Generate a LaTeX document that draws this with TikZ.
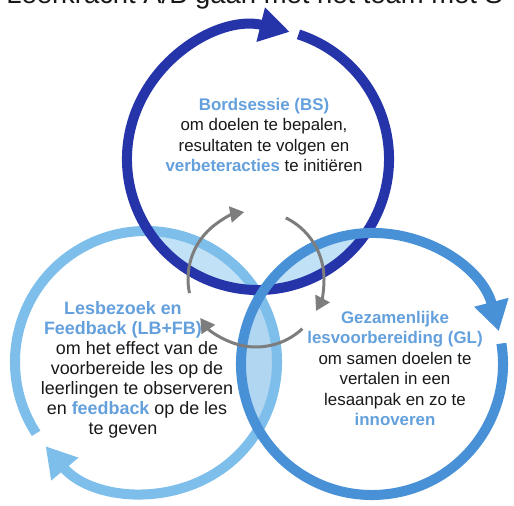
\documentclass[tikz,border=0pt]{standalone}
\usepackage{fontspec}
\setmainfont{Liberation Sans}
\usetikzlibrary{arrows.meta}
\definecolor{darkring}{RGB}{38,52,170}
\definecolor{lightring}{RGB}{125,190,235}
\definecolor{midring}{RGB}{72,145,215}
\definecolor{lens}{RGB}{192,225,246}
\definecolor{lensb}{RGB}{176,214,242}
\definecolor{headblue}{RGB}{100,160,220}
\definecolor{grayarrow}{RGB}{125,125,125}
\definecolor{textblack}{RGB}{25,25,25}
\tikzset{
  ring/.style={line width=5.7pt, -{Triangle[width=19pt,length=17pt]}},
  cyc/.style={line width=1.7pt, draw=grayarrow, -{Triangle[width=9pt,length=8pt]}},
  lbl/.style={align=center, font=\fontsize{9.6}{11.6}\selectfont, text=textblack, inner sep=0pt, anchor=north}
}
\newcommand{\hb}[1]{{\bfseries\color{headblue}#1}}
\newcommand{\pad}{\rule{16pt}{0pt}}
\begin{document}
\begin{tikzpicture}[x=0.02cm,y=-0.02cm]
\useasboundingbox (0,0) rectangle (514,506);
\fill[white] (0,0) rectangle (514,506);
% top clipped title
\node[anchor=base west, font=\fontsize{15.6}{18}\selectfont, text=textblack, inner sep=0pt] (title) at (6,4) {Leerkracht A/B gaan met het team met S};
% lenses
\begin{scope}
  \clip (258,159) circle (131);
  \fill[lens] (146,362) circle (131);
  \fill[lens] (372,364) circle (131);
\end{scope}
\begin{scope}
  \clip (146,362) circle (131);
  \fill[lensb] (372,364) circle (131);
\end{scope}
% rings
\coordinate (c1) at (258,159);
\coordinate (c2) at (146,362);
\coordinate (c3) at (372,364);
\draw[ring, draw=lightring] (c2) ++(147:131) arc[start angle=147, end angle=500, radius=131];
\draw[ring, draw=darkring] (c1) ++(-72:131) arc[start angle=-72, end angle=284, radius=131];
\draw[ring, draw=midring] (c3) ++(-9:131) arc[start angle=-9, end angle=345.5, radius=131];
% gray cycle arrows
\coordinate (cc) at (256,279);
\draw[cyc] (cc) ++(168:68) arc[start angle=168, end angle=260, radius=68];
\draw[cyc] (cc) ++(296:68) arc[start angle=296, end angle=388, radius=68];
\draw[cyc] (cc) ++(47:68) arc[start angle=47, end angle=145, radius=68];
% texts
\node[lbl] (bs) at (264,98) {\hb{Bordsessie (BS)}\\om doelen te bepalen,\\resultaten te volgen en\\\hb{verbeteracties} te initiëren};
\node[lbl, font=\fontsize{10.2}{11.4}\selectfont] (lb) at (137,301) {\hb{Lesbezoek en}\pad\\\hb{Feedback (LB+FB)}\pad\\om het effect van de\\voorbereide les op de\\leerlingen te observeren\\en \hb{feedback} op de les\\te geven\pad};
\node[lbl] (gl) at (395,311) {\hb{Gezamenlijke}\\\hb{lesvoorbereiding (GL)}\\om samen doelen te\\vertalen in een\\lesaanpak en zo te\\\hb{innoveren}};
\end{tikzpicture}
\end{document}
